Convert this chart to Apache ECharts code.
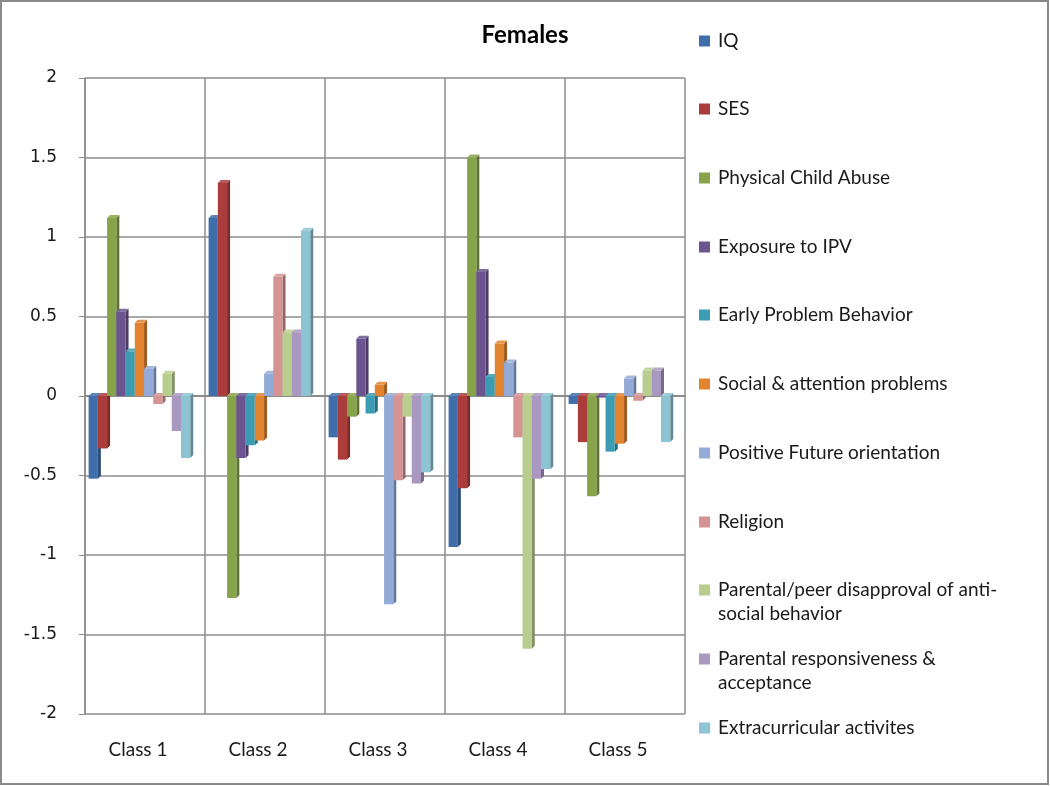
<!DOCTYPE html>
<html>
<head>
<meta charset="utf-8">
<script src="https://cdn.jsdelivr.net/npm/echarts@6/dist/echarts.min.js"></script>
<style>
  html, body { margin: 0; padding: 0; background: #fff; }
  #chart { width: 1050px; height: 786px; }
</style>
</head>
<body>
<div id="chart"></div>
<script>
// categories
const classes = ['Class 1', 'Class 2', 'Class 3', 'Class 4', 'Class 5'];

// one array per predictor, values per class
const iq = [-0.52, 1.12, -0.26, -0.95, -0.05];
const ses = [-0.33, 1.34, -0.40, -0.58, -0.29];
const childAbuse = [1.12, -1.27, -0.13, 1.50, -0.63];
const ipv = [0.53, -0.39, 0.36, 0.78, -0.01];
const earlyProblem = [0.28, -0.31, -0.11, 0.12, -0.35];
const socialAttention = [0.46, -0.28, 0.07, 0.33, -0.30];
const futureOrientation = [0.17, 0.14, -1.31, 0.21, 0.11];
const religion = [-0.05, 0.75, -0.53, -0.26, -0.03];
const peerDisapproval = [0.14, 0.40, -0.13, -1.59, 0.16];
const responsiveness = [-0.22, 0.40, -0.55, -0.52, 0.16];
const extracurricular = [-0.39, 1.04, -0.48, -0.46, -0.29];

const yTicks = { min: -2, max: 2, step: 0.5 };

const seriesNames = [
    'IQ',
    'SES',
    'Physical Child Abuse',
    'Exposure to IPV',
    'Early Problem Behavior',
    'Social & attention problems',
    'Positive Future orientation',
    'Religion',
    'Parental/peer disapproval of anti-social behavior',
    'Parental responsiveness & acceptance',
    'Extracurricular activites'
];
const seriesValues = [iq, ses, childAbuse, ipv, earlyProblem, socialAttention,
    futureOrientation, religion, peerDisapproval, responsiveness, extracurricular];

const colors = ['#3f6eaa', '#aa3d3c', '#88a44a', '#6b5490', '#3c9cb4', '#e2832f',
    '#93abd6', '#d69393', '#b9cd8e', '#a998c0', '#8dc4d3'];

// legend text is wrapped like the original: first line, optional second line
const legendLines = [
    ['IQ'], ['SES'], ['Physical Child Abuse'], ['Exposure to IPV'],
    ['Early Problem Behavior'], ['Social & attention problems'],
    ['Positive Future orientation'], ['Religion'],
    ['Parental/peer disapproval of anti-', 'social behavior'],
    ['Parental responsiveness &', 'acceptance'],
    ['Extracurricular activites']
];
const legendY = [41, 109, 178, 247, 315, 384, 453, 522, 590, 659, 728];

function shade(hex, k) {
    const n = parseInt(hex.slice(1), 16);
    let r = (n >> 16) & 255, g = (n >> 8) & 255, b = n & 255;
    if (k < 0) { r *= 1 + k; g *= 1 + k; b *= 1 + k; }
    else { r += (255 - r) * k; g += (255 - g) * k; b += (255 - b) * k; }
    return 'rgb(' + Math.round(r) + ',' + Math.round(g) + ',' + Math.round(b) + ')';
}

// simple 3d-ish bar: front face, right side and top face
function makeRender(idx) {
    return function (params, api) {
        const c = api.value(0);
        const v = api.value(1);
        const p0 = api.coord([c, 0]);
        const p1 = api.coord([c, v]);
        const band = api.size([1, 0])[0];
        const bw = band * 0.077;
        const d = 3;
        const x = p0[0] - band / 2 + band * 0.03 + idx * bw;
        const yTop = Math.min(p0[1], p1[1]);
        const yBot = Math.max(p0[1], p1[1]);
        const col = colors[idx];
        return {
            type: 'group',
            children: [
                {
                    type: 'polygon',
                    shape: { points: [[x + bw, yTop], [x + bw + d, yTop - d], [x + bw + d, yBot - d], [x + bw, yBot]] },
                    style: { fill: shade(col, -0.3) }
                },
                {
                    type: 'polygon',
                    shape: { points: [[x, yTop], [x + d, yTop - d], [x + bw + d, yTop - d], [x + bw, yTop]] },
                    style: { fill: shade(col, 0.15) }
                },
                {
                    type: 'rect',
                    shape: { x: x, y: yTop, width: bw, height: yBot - yTop },
                    style: { fill: col }
                }
            ]
        };
    };
}

const series = seriesNames.map((name, i) => ({
    name: name,
    type: 'custom',
    renderItem: makeRender(i),
    itemStyle: { color: colors[i] },
    encode: { x: 0, y: 1 },
    data: seriesValues[i].map((v, c) => [c, v])
}));

const textFont = 'Lato';
const legendFont = 19;

const legends = seriesNames.map((name, i) => ({
    data: [name],
    orient: 'vertical',
    left: 699,
    top: legendY[i] - 11,
    padding: 0,
    icon: 'rect',
    itemWidth: 11,
    itemHeight: 11,
    formatter: () => legendLines[i][0],
    textStyle: {
        fontFamily: textFont, fontSize: legendFont, color: '#1a1a1a',
        lineHeight: 22, padding: [0, 0, 0, 3]
    }
}));

const extraText = [];
legendLines.forEach((lines, i) => {
    if (lines.length > 1) {
        extraText.push({
            type: 'text',
            left: 718,
            top: legendY[i] + 25 - 11,
            style: { text: lines[1], font: legendFont + 'px ' + textFont, fill: '#1a1a1a' }
        });
    }
});

const chart = echarts.init(document.getElementById('chart'));
chart.setOption({
    animation: false,
    color: colors,
    title: {
        text: 'Females',
        left: 520,
        top: 18,
        textAlign: 'center',
        textStyle: { fontFamily: textFont, fontSize: 24, fontWeight: 'bold', color: '#000' }
    },
    legend: legends,
    grid: { left: 85, right: 365, top: 78, bottom: 72 },
    xAxis: {
        type: 'category',
        data: classes,
        axisLine: { lineStyle: { color: '#8c8c8c', width: 2 } },
        axisTick: { show: false },
        splitLine: { show: true, lineStyle: { color: '#8c8c8c', width: 1.5 } },
        axisLabel: {
            margin: 26, fontFamily: textFont, fontSize: 19, color: '#1a1a1a',
            padding: [0, 14, 0, 0]
        }
    },
    yAxis: {
        type: 'value',
        min: yTicks.min,
        max: yTicks.max,
        interval: yTicks.step,
        axisLine: { show: true, lineStyle: { color: '#8c8c8c', width: 1.5 } },
        axisTick: { show: true, length: 6, lineStyle: { color: '#8c8c8c' } },
        splitLine: { lineStyle: { color: '#8c8c8c', width: 1.5 } },
        axisLabel: {
            margin: 28, fontFamily: 'DejaVu Sans', fontSize: 17, color: '#1a1a1a',
            padding: [10, 0, 0, 0]
        }
    },
    graphic: [
        {
            type: 'rect',
            shape: { x: 1, y: 1, width: 1047, height: 783 },
            style: { fill: 'none', stroke: '#8a8a8a', lineWidth: 2 },
            silent: true
        }
    ].concat(extraText),
    series: series
});
</script>
</body>
</html>
